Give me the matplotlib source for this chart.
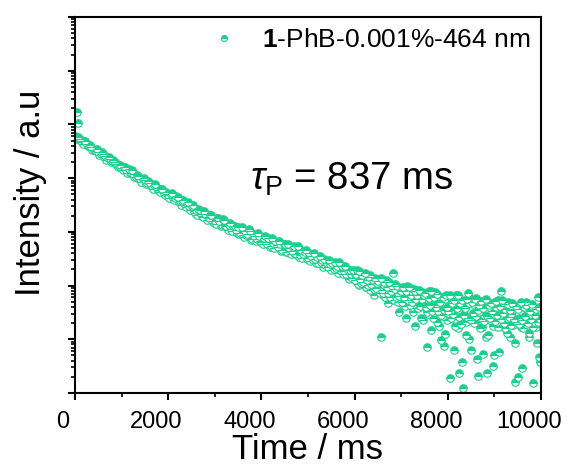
import numpy as np
import matplotlib
matplotlib.use("Agg")
import matplotlib.pyplot as plt
from matplotlib.ticker import LogLocator, NullFormatter, MultipleLocator
from matplotlib.transforms import ScaledTranslation

plt.rcParams['font.family'] = ['Liberation Sans', 'DejaVu Sans']
plt.rcParams['mathtext.fontset'] = 'custom'
plt.rcParams['mathtext.rm'] = 'Liberation Sans'
plt.rcParams['mathtext.it'] = 'Liberation Sans:italic'
plt.rcParams['mathtext.bf'] = 'Liberation Sans:bold'

# ---- data ----
series_label = r'$\mathbf{1}$-PhB-0.001%-464 nm'
lifetime_text = r'$\tau_{\mathrm{P}}$ = 837 ms'

# decay sampled every 25 ms (0 .. 10000 ms)
time_ms = np.arange(0, 10001, 25)

# 0 .. 4975 ms
intensity_early = [
    60950, 53590, 55940, 58390, 53590, 49190, 47120, 43250, 49190, 49190,
    43250, 39690, 39690, 41430, 38030, 33440, 33440, 33440, 32030, 34900,
    30690, 26980, 28170, 30690, 28170, 24770, 25850, 21780, 23730, 24770,
    22730, 19990, 20860, 21780, 19990, 18340, 18340, 16130, 16840, 17570,
    15450, 14180, 16130, 16130, 14180, 12470, 14800, 12470, 12470, 14180,
    11950, 10500, 10500, 11440, 10960, 9640, 9640, 8480, 9640, 10060,
    9240, 7780, 8120, 8850, 8120, 7140, 7140, 6280, 7450, 7780,
    6550, 6020, 6020, 5520, 6280, 6280, 5290, 4850, 5520, 5070,
    4850, 4270, 5070, 5290, 4270, 3920, 4270, 4650, 4450, 3590,
    3750, 3160, 3750, 3920, 3160, 2900, 3440, 3590, 3030, 2550,
    3030, 3160, 2440, 2240, 2550, 2060, 2660, 2550, 2150, 1970,
    1890, 2440, 2150, 1660, 1890, 1810, 2060, 2060, 1590, 1460,
    1590, 1400, 1810, 1810, 1590, 1280, 1340, 1730, 1660, 1280,
    1280, 1080, 1340, 1460, 1130, 1035, 1280, 1280, 1080, 950,
    1230, 910, 950, 1230, 872, 800, 1035, 872, 910, 1130,
    1035, 704, 735, 910, 835, 674, 735, 950, 835, 674,
    646, 593, 767, 835, 646, 593, 767, 521, 544, 767,
    619, 499, 674, 568, 521, 674, 593, 439, 458, 593,
    593, 420, 420, 593, 499, 386, 439, 521, 544, 386,
    386, 544, 339, 370, 458, 325, 386, 420, 458, 311,
]

# 5000 .. 10000 ms
intensity_late = [
    325, 403, 286, 354, 298, 403, 311, 262, 339, 262, 354, 274, 298, 221, 311, 241, 262, 221, 298, 251,
    194, 262, 203, 274, 212, 231, 171, 274, 186, 231, 164, 186, 231, 164, 194, 132, 194, 164, 138, 194,
    164, 121, 194, 127, 102, 157, 127, 164, 107, 127, 94, 144, 107, 157, 98, 111, 121, 66.6, 127, 79.1,
    82.6, 132, 94, 11.0, 66.6, 102, 69.6, 127, 79.1, 47.3, 98, 58.6, 86, 171, 63.8, 107, 56.1, 72.6, 32.1, 86,
    79.1, 45.3, 90, 61.2, 24.8, 98, 51.5, 61.2, 79.1, 39.8, 51.5, 86, 17.6, 43.4, 66.6, 39.8, 58.6, 24.8, 75.8, 43.4,
    69.6, 39.8, 7.2, 29.5, 79.1, 43.4, 14.8, 58.6, 32.1, 75.8, 43.4, 20.9, 63.8, 36.5, 9.7, 49.3, 27.0, 7.5, 56.1, 22.8,
    30.8, 63.8, 1.9, 35.0, 51.5, 6.3, 23.8, 66.6, 38.1, 16.1, 2.4, 51.5, 3.8, 1.24, 29.5, 41.5, 20.9, 72.6, 10.1, 58.6,
    6.3, 24.8, 45.3, 20.9, 58.6, 4.3, 2.1, 32.1, 49.3, 16.9, 5.3, 28.2, 53.8, 11.0, 2.4, 39.8, 22.8, 45.3, 33.5, 3.2,
    5.1, 39.8, 20.9, 53.8, 5.8, 28.2, 79.1, 23.8, 45.3, 16.1, 35.0, 24.8, 49.3, 11.0, 29.5, 39.8, 18.4, 36.5, 1.6, 20.9,
    2.0, 24.8, 45.3, 16.9, 2.9, 39.8, 27.0, 49.3, 18.4, 35.0, 13.0, 29.5, 41.5, 1.55, 20.9, 35.0, 16.9, 61.2, 4.7, 3.8, 23.8,
]

# extra readings in the noisy tail, between the 25 ms samples (6012.5 .. 9987.5 ms)
time_tail = np.arange(6012.5, 10000, 25)
intensity_tail = [
    127, 164, 107, 186, 132, 111, 157, 116, 171, 94, 127, 102, 144, 82.6, 107, 127, 86, 138, 90, 111,
    121, 72.6, 138, 82.6, 72.6, 116, 61.2, 94, 72.6, 116, 61.2, 79.1, 98, 53.8, 86, 61.2, 98, 49.3, 63.8, 79.1,
    49.3, 94, 61.2, 41.5, 79.1, 53.8, 94, 43.4, 66.6, 49.3, 32.1, 79.1, 56.1, 66.6, 38.1, 82.6, 41.5, 56.1, 22.8, 66.6,
    72.6, 39.8, 32.1, 58.6, 43.4, 79.1, 33.5, 24.8, 61.2, 39.8, 69.6, 33.5, 17.6, 49.3, 28.2, 61.2, 35.0, 12.5, 66.6, 39.8,
    33.5, 66.6, 24.8, 47.3, 29.5, 53.8, 17.6, 38.1, 66.6, 25.9, 47.3, 19.2, 53.8, 28.2, 38.1, 12.0, 56.1, 24.8, 47.3, 22.8,
    49.3, 30.8, 20.0, 56.1, 27.0, 35.0, 43.4, 16.1, 51.5, 23.8, 38.1, 21.8, 56.1, 27.0, 12.0, 43.4, 24.8, 47.3, 17.6, 29.5,
    21.8, 51.5, 28.2, 16.9, 41.5, 23.8, 53.8, 30.8, 20.0, 36.5, 13.0, 45.3, 25.9, 35.0, 18.4, 47.3, 23.8, 8.5, 41.5, 20.9,
    36.5, 19.2, 49.3, 22.8, 16.1, 39.8, 27.0, 43.4, 20.0, 11.0, 33.5, 23.8, 45.3, 16.9, 28.2, 36.5, 8.5, 20.9, 39.8, 23.8,
]

# spike points at the very start
spike_time = [40, 60]
spike_intensity = [170600, 106400]

time_all = np.concatenate([spike_time, time_ms, time_tail])
intensity_all = np.concatenate([spike_intensity, intensity_early, intensity_late, intensity_tail])

green = '#1CCF8E'

fig = plt.figure(figsize=(5.68, 4.65), dpi=100)
ax = fig.add_axes([75 / 568, 1 - 393 / 465, 466 / 568, 376 / 465])

ax.plot(time_all, intensity_all, linestyle='none', marker='o', markersize=5.4,
        fillstyle='top', markerfacecolor=green, markerfacecoloralt='white',
        markeredgecolor=green, markeredgewidth=0.8, label=series_label)

ax.set_yscale('log')
ax.set_ylim(1, 1e7)
ax.set_xlim(0, 10000)

ax.xaxis.set_major_locator(MultipleLocator(2000))
ax.xaxis.set_minor_locator(MultipleLocator(1000))
ax.yaxis.set_major_locator(LogLocator(base=10, numticks=20))
ax.yaxis.set_minor_locator(LogLocator(base=10, subs=np.arange(2, 10), numticks=200))
ax.yaxis.set_major_formatter(NullFormatter())
ax.yaxis.set_minor_formatter(NullFormatter())

ax.tick_params(which='major', direction='out', length=5, width=1.5, labelsize=17,
               top=False, right=False, pad=8)
ax.tick_params(which='minor', direction='out', length=3, width=1.2, top=False, right=False)
for s in ax.spines.values():
    s.set_linewidth(1.5)

# tick labels in the reference sit slightly left of their ticks
shift = ScaledTranslation(-12 / 100, 0, fig.dpi_scale_trans)
for lab in ax.get_xticklabels():
    lab.set_transform(lab.get_transform() + shift)

ax.set_xlabel('Time / ms', fontsize=25, labelpad=0)
ax.set_ylabel('Intensity / a.u', fontsize=25)
ax.yaxis.set_label_coords(-0.06, 0.532)

ax.text(0.3755, 0.54, lifetime_text, transform=ax.transAxes, fontsize=27.5,
        ha='left', va='baseline')

fig.legend(loc='center left', bbox_to_anchor=(211 / 568, 1 - 40 / 465),
           frameon=False, fontsize=19, handlelength=1.0, handletextpad=0.95,
           borderpad=0, borderaxespad=0, markerscale=0.8)

fig.savefig('out.png', dpi=100)
